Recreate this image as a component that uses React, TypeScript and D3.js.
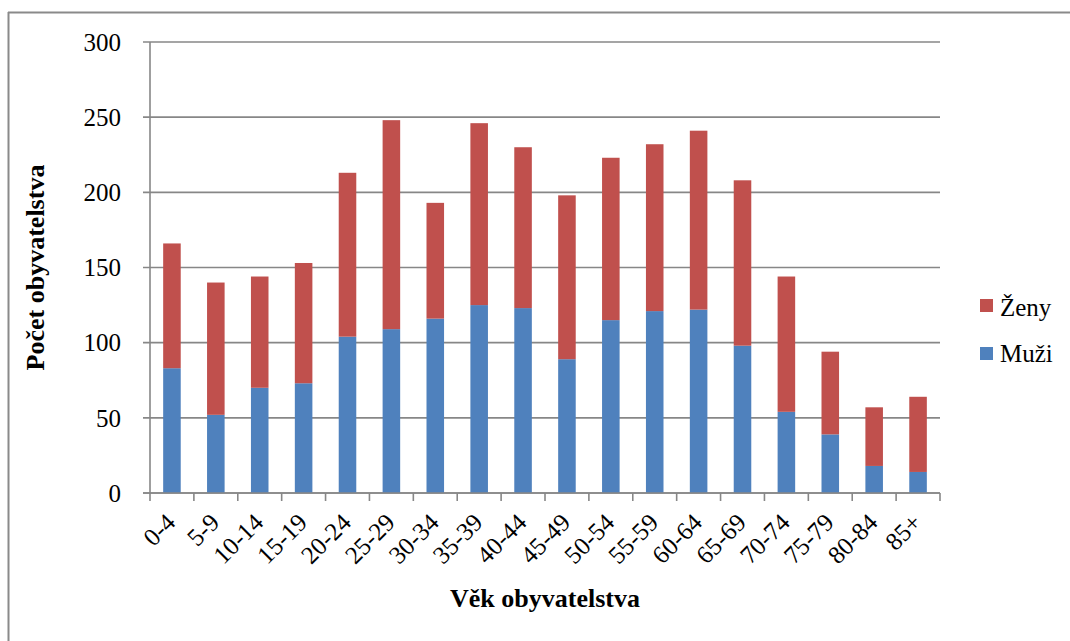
import React from "react";
import * as d3 from "d3";

const categories = ["0-4","5-9","10-14","15-19","20-24","25-29","30-34","35-39","40-44","45-49","50-54","55-59","60-64","65-69","70-74","75-79","80-84","85+"];
const muzi = [83,52,70,73,104,109,116,125,123,89,115,121,122,98,54,39,18,14];
const zeny = [83,88,74,80,109,139,77,121,107,109,108,111,119,110,90,55,39,50];
const yTicks = [0,50,100,150,200,250,300];
const seriesNames = ["Muži","Ženy"];
const colors = ["#4F81BD","#C0504D"];

const W = 1070, H = 641;
const left = 150, right = 940, top = 42, bottom = 493;
const FONT = "Liberation Serif";
const GRID = "#878787";
const txt = { fontFamily: FONT };

export default function App() {
  const x = d3.scaleBand<string>().domain(categories).range([left, right]).paddingInner(0.6).paddingOuter(0.3);
  const xStep = d3.scaleBand<string>().domain(categories).range([left, right]);
  const y = d3.scaleLinear().domain([0, 300]).range([bottom, top]);
  const rows = categories.map((c, i) => ({ c, Muži: muzi[i], Ženy: zeny[i] }));
  const stacked = d3.stack<any>().keys(seriesNames)(rows);

  return (
    <svg width={W} height={H} style={{ position: "absolute", left: 0, top: 0 }}>
      <rect x={0} y={0} width={W} height={H} fill="#fff" />
      <line x1={8} y1={12.5} x2={W} y2={12.5} stroke="#8a8a8a" strokeWidth={2} />
      <line x1={8.5} y1={12} x2={8.5} y2={H} stroke="#8a8a8a" strokeWidth={2} />
      {yTicks.map(t => (
        <g key={t}>
          <line x1={left - 7} x2={right} y1={y(t)} y2={y(t)} stroke={GRID} strokeWidth={1.6} />
          <text x={121} y={y(t)} dy="0.35em" textAnchor="end" fontSize={25} fill="#000" style={txt}>{t}</text>
        </g>
      ))}
      {stacked.map((s, si) => (
        <g key={s.key} fill={colors[si]}>
          {s.map((d, i) => (
            <rect key={i} x={x(categories[i])} width={x.bandwidth()} y={y(d[1])} height={y(d[0]) - y(d[1])} />
          ))}
        </g>
      ))}
      <line x1={left} x2={left} y1={top} y2={bottom + 1} stroke={GRID} strokeWidth={1.6} />
      <line x1={left - 7} x2={right} y1={bottom} y2={bottom} stroke={GRID} strokeWidth={1.6} />
      {categories.map((c, i) => (
        <line key={"t" + i} x1={xStep(c)} x2={xStep(c)} y1={bottom} y2={bottom + 8} stroke={GRID} strokeWidth={1.6} />
      ))}
      <line x1={right} x2={right} y1={bottom} y2={bottom + 8} stroke={GRID} strokeWidth={1.6} />
      {categories.map(c => {
        const cx = (xStep(c) as number) + xStep.bandwidth() / 2;
        return (
          <text key={"l" + c} transform={`translate(${cx + 5},${524}) rotate(-45)`} textAnchor="end" fontSize={25} fill="#000" style={txt}>{c}</text>
        );
      })}
      <text x={(left + right) / 2} y={607} textAnchor="middle" fontSize={26} fontWeight="bold" fill="#000" style={txt}>Věk obyvatelstva</text>
      <text transform={`translate(44,${(top + bottom) / 2}) rotate(-90)`} textAnchor="middle" fontSize={26} fontWeight="bold" fill="#000" style={txt}>Počet obyvatelstva</text>
      <rect x={980} y={299} width={13} height={13} fill={colors[1]} />
      <text x={1000} y={316} fontSize={25} fill="#000" style={txt}>Ženy</text>
      <rect x={980} y={347} width={13} height={13} fill={colors[0]} />
      <text x={1000} y={362} fontSize={25} fill="#000" style={txt}>Muži</text>
    </svg>
  );
}
